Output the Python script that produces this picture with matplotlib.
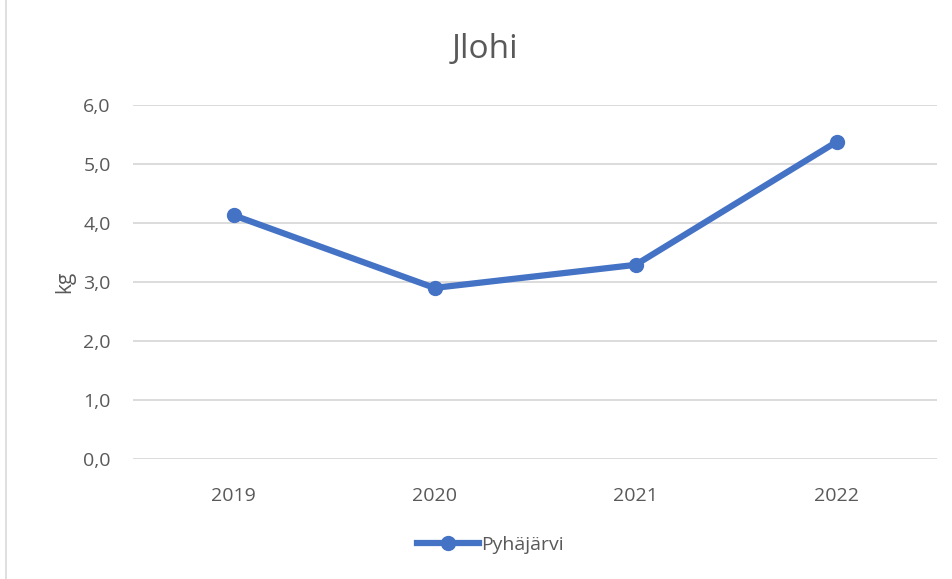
import matplotlib
matplotlib.use("Agg")
import matplotlib.pyplot as plt
from matplotlib.lines import Line2D

years = ["2019", "2020", "2021", "2022"]
values = [4.13, 2.90, 3.29, 5.37]
series_name = "Pyhäjärvi"
title = "Jlohi"
ylabel = "kg"

plt.rcParams['font.family'] = ['Open Sans', 'DejaVu Sans']
txt = "#595959"
blue = "#4472C4"

fig = plt.figure(figsize=(9.52, 5.79), dpi=100)
W, H = 952, 579
ax = fig.add_axes([133 / W, 1 - 459.3 / H, (937 - 133) / W, (459.3 - 104.7) / H])

x = list(range(len(years)))
ax.plot(x, values, color=blue, lw=4.5, marker="o", ms=10, solid_capstyle="round", zorder=3)
ax.set_xlim(-0.5, len(years) - 0.5)
ax.set_ylim(0, 6)
ax.set_yticks([0, 1, 2, 3, 4, 5, 6])
ax.set_yticklabels([f"{v:.1f}".replace(".", ",") for v in range(7)], fontsize=14, color=txt)
ax.set_xticks(x)
ax.set_xticklabels(years, fontsize=14, color=txt)
ax.tick_params(length=0)
ax.tick_params(axis="y", pad=16)
ax.tick_params(axis="x", pad=20)
ax.grid(axis="y", color="#D9D9D9", lw=1.3)
ax.set_axisbelow(True)
for s in ax.spines.values():
    s.set_visible(False)
ax.set_ylabel(ylabel, fontsize=15, color=txt, labelpad=6)

fig.text(485 / W, 1 - 50 / H, title, ha="center", va="center", fontsize=24, color=txt)

handle = Line2D([], [], color=blue, lw=4.5, marker="o", ms=10)
fig.legend([handle], [series_name], loc="center", bbox_to_anchor=(490 / W, 1 - 545 / H),
           frameon=False, fontsize=14, labelcolor=txt, handlelength=3.2, handletextpad=0.1)

fig.add_artist(Line2D([6 / W, 6 / W], [0, 1], color="#D9D9D9", lw=1.2, transform=fig.transFigure))

fig.savefig("out.png", dpi=100)
